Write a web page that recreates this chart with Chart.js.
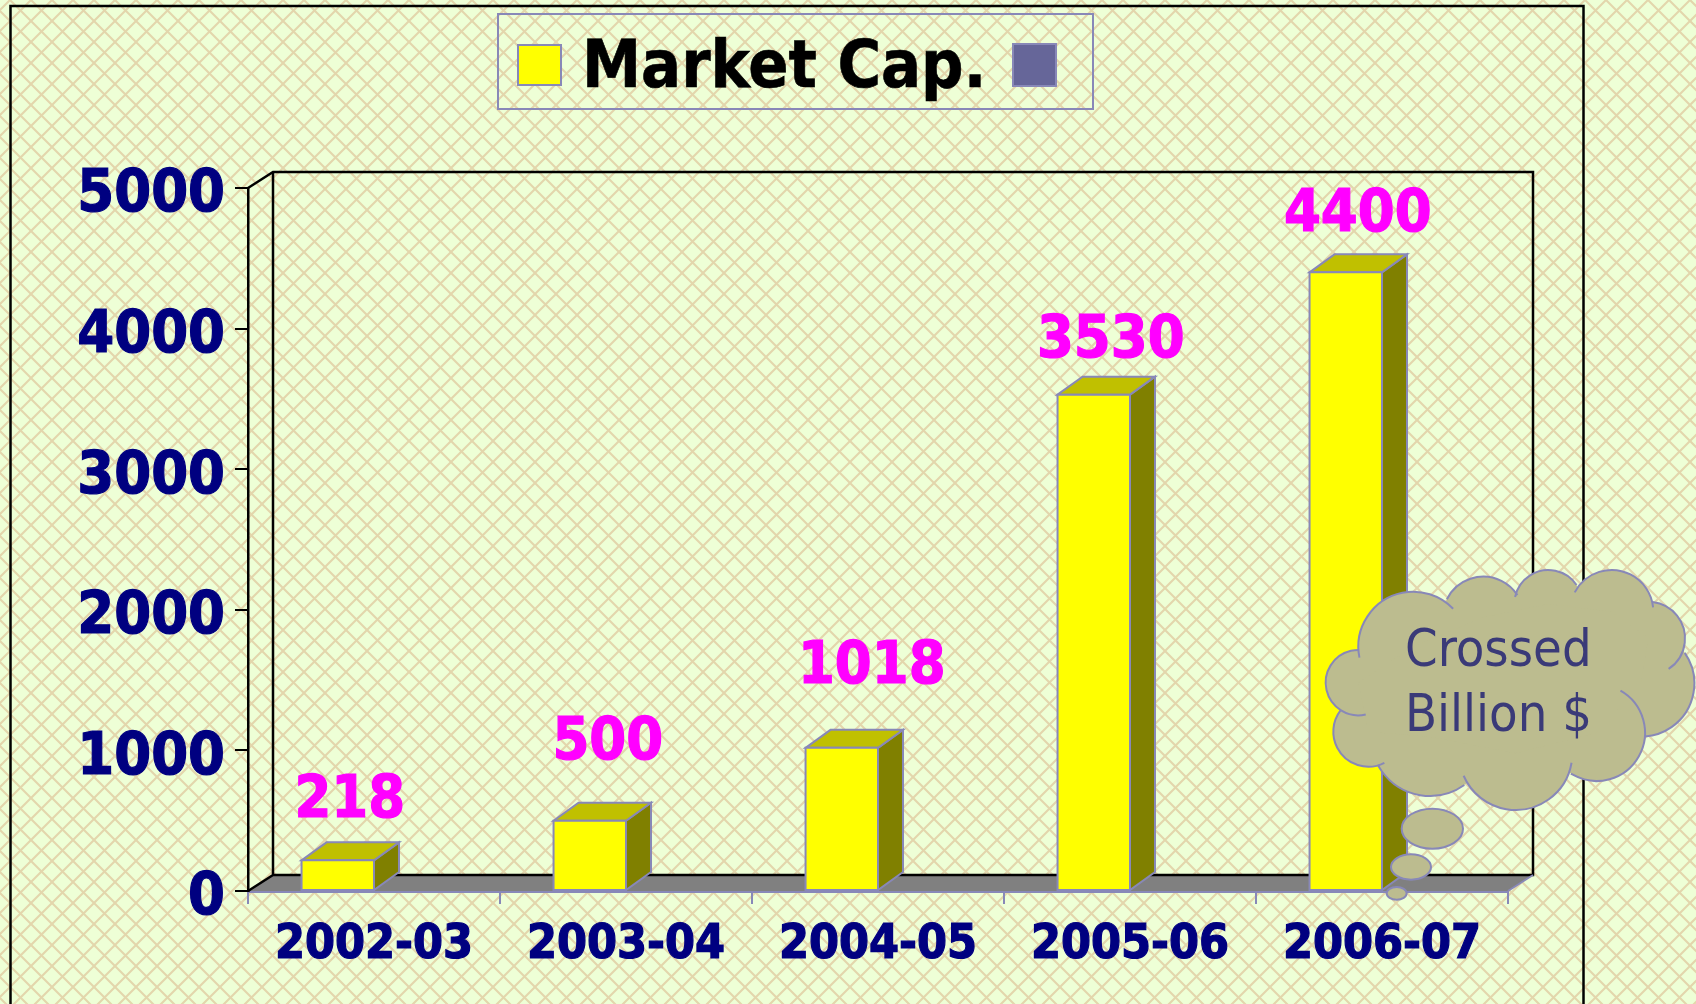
<!DOCTYPE html>
<html><head><meta charset="utf-8">
<style>html,body{margin:0;padding:0;background:#EEFFD6}canvas{display:block}</style>
<script src="https://cdn.jsdelivr.net/npm/chart.js@4"></script>
</head><body><canvas id="c" width="1696" height="1004"></canvas>
<script>
const categories = ['2002-03','2003-04','2004-05','2005-06','2006-07'];
const marketCap = [218,500,1018,3530,4400];
const secondSeries = [null,null,null,null,null];
const yTicks = [0,1000,2000,3000,4000,5000];
const seriesNames = ['Market Cap.',''];
const labelShift = [[12,-25],[18,-44],[30,-47],[17,-20],[12,-23]];
const noteLines = ['Crossed','Billion $'];

const FONT = '"DejaVu Sans Condensed","DejaVu Sans"';
const EDGE = '#8888B8';
const DEPTH = 25, RISE = 18;

function makeHatch(ctx){
  const n = 21, t = document.createElement('canvas');
  t.width = t.height = n;
  const g = t.getContext('2d');
  g.fillStyle = '#EEFFD6'; g.fillRect(0,0,n,n);
  g.strokeStyle = '#E3D6AC'; g.lineWidth = 2.1;
  g.beginPath();
  for (let k=-1;k<=1;k++){
    g.moveTo(k*n-2,-2); g.lineTo(k*n+n+2,n+2);
    g.moveTo(k*n-2,n+2); g.lineTo(k*n+n+2,-2);
  }
  g.stroke();
  return ctx.createPattern(t,'repeat');
}
function poly(ctx,pts,fill,stroke,w){
  ctx.beginPath();
  pts.forEach((p,i)=>i?ctx.lineTo(p[0],p[1]):ctx.moveTo(p[0],p[1]));
  ctx.closePath();
  if(fill){ctx.fillStyle=fill;ctx.fill();}
  if(stroke){ctx.strokeStyle=stroke;ctx.lineWidth=w;ctx.lineJoin='miter';ctx.stroke();}
}
function line(ctx,x0,y0,x1,y1,c,w){
  ctx.beginPath();ctx.moveTo(x0,y0);ctx.lineTo(x1,y1);ctx.strokeStyle=c;ctx.lineWidth=w;ctx.stroke();
}

const backdrop = {
  id:'backdrop',
  beforeDraw(chart){
    const {ctx,width,height} = chart;
    ctx.save();
    ctx.fillStyle = makeHatch(ctx);
    ctx.translate(10,0);
    ctx.fillRect(-10,0,width,height);
    ctx.translate(-10,0);
    ctx.strokeStyle='#000';ctx.lineWidth=2.5;
    ctx.beginPath();ctx.moveTo(10.5,height+2);ctx.lineTo(10.5,6);ctx.lineTo(1583.5,6);ctx.lineTo(1583.5,height+2);ctx.stroke();
    ctx.strokeStyle=EDGE;ctx.lineWidth=2;ctx.strokeRect(498,14,595,95);
    ctx.restore();
  },
  beforeDatasetsDraw(chart){
    const {ctx,chartArea:a} = chart;
    const dx=DEPTH,dy=RISE-2;
    ctx.save();
    poly(ctx,[[a.left,a.bottom],[a.left+dx,a.bottom-dy],[a.right+dx,a.bottom-dy],[a.right,a.bottom]],'#808080');
    ctx.beginPath();
    ctx.moveTo(a.left,a.top);ctx.lineTo(a.left+dx,a.top-dy);ctx.lineTo(a.right+dx,a.top-dy);
    ctx.lineTo(a.right+dx,a.bottom-dy);ctx.lineTo(a.left+dx,a.bottom-dy);ctx.lineTo(a.left+dx,a.top-dy);
    ctx.moveTo(a.left+dx,a.bottom-dy);ctx.lineTo(a.left,a.bottom);
    ctx.strokeStyle='#000';ctx.lineWidth=2.5;ctx.stroke();
    line(ctx,a.right,a.bottom,a.right+dx,a.bottom-dy,EDGE,2);
    ctx.restore();
  }
};

const bars3d = {
  id:'bars3d',
  afterDatasetsDraw(chart){
    const {ctx} = chart;
    const meta = chart.getDatasetMeta(0);
    ctx.save();
    meta.data.forEach((b,i)=>{
      const w=b.width, l=b.x-w/2, r=b.x+w/2, t=b.y, bot=b.base;
      poly(ctx,[[r,t],[r+DEPTH,t-RISE],[r+DEPTH,bot-RISE],[r,bot]],'#808000',EDGE,2);
      poly(ctx,[[l,t],[l+DEPTH,t-RISE],[r+DEPTH,t-RISE],[r,t]],'#C0C000',EDGE,2);
      poly(ctx,[[l,t],[r,t],[r,bot],[l,bot]],'#FFFF00',EDGE,2);
    });
    ctx.fillStyle='#FF00FF';ctx.strokeStyle='#FF00FF';ctx.lineWidth=1.2;ctx.font='bold 59px '+FONT;ctx.textAlign='center';ctx.textBaseline='alphabetic';
    meta.data.forEach((b,i)=>{
      const s=String(marketCap[i]),x=b.x+labelShift[i][0],y=b.y-RISE+labelShift[i][1];
      ctx.fillText(s,x,y);ctx.strokeText(s,x,y);
    });
    ctx.restore();
  },
  afterDraw(chart){
    const {ctx} = chart;
    ctx.save();
    const ds = chart.data.datasets;
    ctx.fillStyle=ds[0].backgroundColor;ctx.fillRect(518,45,43,40);
    ctx.strokeStyle=EDGE;ctx.lineWidth=2;ctx.strokeRect(518,45,43,40);
    ctx.fillStyle='#000';ctx.strokeStyle='#000';ctx.lineWidth=0.6;ctx.font='bold 66px '+FONT;ctx.textAlign='left';ctx.textBaseline='alphabetic';
    ctx.fillText(ds[0].label,582,87);ctx.strokeText(ds[0].label,582,87);
    ctx.fillStyle=ds[1].backgroundColor;ctx.fillRect(1013,44,43,42);
    ctx.strokeStyle=EDGE;ctx.lineWidth=2;ctx.strokeRect(1013,44,43,42);
    drawCloud(ctx);
    ctx.restore();
  }
};

const lobes = [
 [490,320,165,[333,352],[618,198]],
 [700,232,122,[585,175],[795,170]],
 [895,192,102,[790,170],[990,128]],
 [1085,215,125,[970,155],[1208,202]],
 [1195,295,110,[1208,182],[1258,390]],
 [1173,430,160,[1295,345],[1185,590]],
 [1040,578,145,[1100,472],[960,705]],
 [797,640,170,[963,668],[630,712]],
 [540,590,178,[650,745],[375,680]],
 [355,575,105,[405,672],[275,515]],
 [325,428,98,[348,527],[325,330]]
];
const bubbles = [[547,866,92,60],[483,981,60,38],[440,1060,30,19]];
const zx = v=>1250+v/3, zy = v=>540+v/3;
function drawCloud(ctx){
  ctx.fillStyle='#BCBC8F';ctx.strokeStyle=EDGE;ctx.lineWidth=2;
  bubbles.slice().reverse().forEach(b=>{
    ctx.beginPath();ctx.ellipse(zx(b[0]),zy(b[1]),b[2]/3,b[3]/3,0,0,Math.PI*2);ctx.fill();ctx.stroke();
  });
  ctx.beginPath();
  lobes.forEach(l=>{ctx.moveTo(zx(l[0]+l[2]),zy(l[1]));ctx.arc(zx(l[0]),zy(l[1]),l[2]/3,0,Math.PI*2);});
  ctx.fill();
  ctx.beginPath();
  lobes.forEach((l,i)=>{i?ctx.lineTo(zx(l[0]),zy(l[1])):ctx.moveTo(zx(l[0]),zy(l[1]));});
  ctx.closePath();ctx.fill();
  lobes.forEach(l=>{
    const a0=Math.atan2(l[3][1]-l[1],l[3][0]-l[0]),a1=Math.atan2(l[4][1]-l[1],l[4][0]-l[0]);
    ctx.beginPath();ctx.arc(zx(l[0]),zy(l[1]),l[2]/3,a0,a1);ctx.stroke();
  });
  ctx.fillStyle='#3A3A78';ctx.font='52px '+FONT;ctx.textAlign='left';ctx.textBaseline='alphabetic';
  ctx.fillText(noteLines[0],zx(465),zy(378));
  ctx.fillText(noteLines[1],zx(465),zy(572));
}

new Chart(document.getElementById('c'),{
  type:'bar',
  data:{labels:categories,datasets:[
    {label:seriesNames[0],data:marketCap,backgroundColor:'#FFFF00',borderWidth:0},
    {label:seriesNames[1],data:secondSeries,backgroundColor:'#666699',borderWidth:0}
  ]},
  options:{
    responsive:false,animation:false,
    categoryPercentage:0.575,barPercentage:1,
    layout:{padding:{left:0,top:188,right:188,bottom:0}},
    plugins:{legend:{display:false},tooltip:{enabled:false}},
    scales:{
      x:{
        grid:{drawOnChartArea:false,color:EDGE,lineWidth:2,tickLength:13,offset:true},
        border:{color:EDGE,width:3},
        ticks:{color:'#000080',font:{family:FONT,weight:'bold',size:48},padding:13,maxRotation:0,autoSkip:false,textStrokeColor:'#000080',textStrokeWidth:1.2},
        afterFit(s){s.height=113;}
      },
      y:{
        min:0,max:5000,
        afterBuildTicks(s){s.ticks=yTicks.map(v=>({value:v}));},
        grid:{drawOnChartArea:false,color:'#000',lineWidth:2,tickLength:13},
        border:{color:'#000',width:2.5},
        ticks:{color:'#000080',font:{family:FONT,weight:'bold',size:59},padding:10,labelOffset:8,textStrokeColor:'#000080',textStrokeWidth:1.2,callback:v=>String(v)},
        afterFit(s){s.width=248;}
      }
    }
  },
  plugins:[backdrop,bars3d]
});
</script></body></html>
